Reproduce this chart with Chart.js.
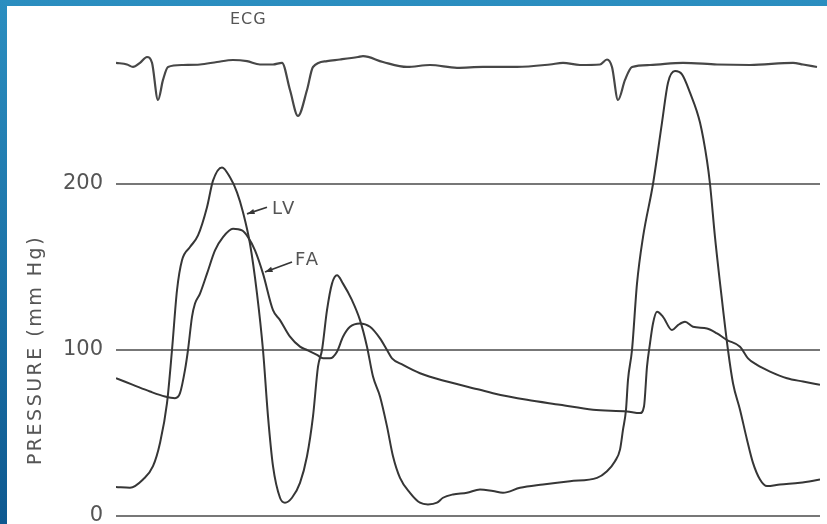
<!DOCTYPE html>
<html>
<head>
<meta charset="utf-8">
<script src="https://cdn.jsdelivr.net/npm/chart.js@4.4.1/dist/chart.umd.min.js"></script>
<style>
    body { margin: 0; background: #fff; }
    #frame {
        position: relative;
        width: 827px;
        height: 524px;
        background: linear-gradient(to bottom, #2b8ec0, #0e5990);
        overflow: hidden;
    }
    #paper {
        position: absolute;
        left: 7px;
        top: 6px;
        width: 820px;
        height: 518px;
        background: #fff;
    }
</style>
</head>
<body>
<div id="frame">
    <div id="paper"><canvas id="pressure-chart"></canvas></div>
</div>
<script>
// time axis in arbitrary units, pressure in mm Hg
const lvTime = [0, 14, 27, 37, 44, 51, 56, 61, 66, 74, 82, 91, 97, 106, 114, 121, 127, 134, 141, 147, 152, 157, 164, 169, 176, 184, 191, 197, 202, 206, 211, 216, 221, 227, 236, 244, 251, 257, 264, 271, 277, 284, 294, 304, 312, 321, 327, 337, 351, 364, 377, 387, 404, 427, 454, 481, 491, 499, 504, 507, 510, 512, 516, 521, 527, 537, 546, 552, 559, 566, 574, 584, 591, 594, 599, 606, 612, 617, 624, 631, 637, 644, 651, 664, 684, 704];
const lvPressure = [17.5, 17, 22, 30, 44, 68, 100, 136, 154, 162, 169, 186, 202, 210, 204, 195, 183, 164, 134, 100, 60, 30, 11, 8, 11, 20, 36, 60, 90, 100, 124, 140, 145, 140, 130, 118, 102, 84, 72, 54, 36, 23, 14, 8, 7, 8, 11, 13, 14, 16, 15, 14, 17, 19, 21, 23, 27, 33, 40, 52, 64, 82, 100, 140, 168, 200, 237, 261, 268, 266, 255, 237, 214, 200, 168, 130, 100, 80, 64, 46, 32, 22, 18, 19, 20, 22];

const faTime = [0, 17, 34, 49, 59, 64, 69, 72, 76, 79, 84, 91, 99, 107, 117, 126, 132, 139, 147, 157, 164, 174, 184, 191, 201, 207, 214, 221, 227, 234, 244, 254, 264, 271, 276, 287, 304, 331, 364, 377, 411, 444, 477, 511, 524, 528, 531, 534, 537, 541, 547, 556, 562, 569, 577, 591, 601, 611, 624, 632, 641, 654, 671, 687, 704];
const faPressure = [83, 79, 75, 72, 71, 74, 88, 100, 120, 128, 134, 146, 160, 168, 173, 172, 168, 160, 146, 124, 118, 108, 102, 100, 97, 95, 95, 99, 108, 114, 116, 114, 107, 100, 95, 91, 86, 81, 76, 74, 70, 67, 64, 63, 62, 66, 90, 104, 116, 123, 120, 112, 115, 117, 114, 113, 110, 106, 102, 95, 91, 87, 83, 81, 79];

// ECG trace drawn on the same scale, above the pressure traces
const ecgTime = [0, 11, 17, 24, 31, 36, 42, 47, 52, 67, 84, 101, 117, 131, 144, 157, 166, 174, 182, 191, 197, 211, 224, 242, 247, 267, 291, 314, 341, 367, 401, 434, 447, 464, 484, 491, 496, 502, 509, 516, 534, 567, 601, 634, 677, 687, 701];
const ecgLevel = [273, 272, 270.5, 273, 276.5, 273, 250.6, 262.7, 270.5, 271.7, 272, 273.5, 274.7, 274, 272, 272, 273, 256.6, 241, 256.6, 270.5, 274, 275, 276.5, 277, 273.5, 270.5, 271.7, 270, 270.5, 270.5, 272, 273, 271.7, 272, 275, 270.5, 250.6, 262.7, 270.5, 271.7, 273, 272, 271.7, 273, 272, 270.5];

const yTicks = [0, 100, 200];
const yTitle = 'PRESSURE (mm Hg)';

const toPoints = (xs, ys) => xs.map((x, i) => ({ x: x, y: ys[i] }));

const traceColor = '#363636';
const textColor = '#555';

// labels with pointer arrows, ECG caption and the axis title
const labelPlugin = {
    id: 'labels',
    afterDatasetsDraw(chart) {
        const ctx = chart.ctx;
        const xs = chart.scales.x;
        const ys = chart.scales.y;
        const px = v => xs.getPixelForValue(v);
        const py = v => ys.getPixelForValue(v);

        const arrow = (x1, y1, x2, y2) => {
            const a = Math.atan2(y2 - y1, x2 - x1);
            ctx.beginPath();
            ctx.moveTo(x1, y1);
            ctx.lineTo(x2, y2);
            ctx.stroke();
            ctx.beginPath();
            ctx.moveTo(x2, y2);
            ctx.lineTo(x2 - 8 * Math.cos(a - 0.35), y2 - 8 * Math.sin(a - 0.35));
            ctx.lineTo(x2 - 8 * Math.cos(a + 0.35), y2 - 8 * Math.sin(a + 0.35));
            ctx.closePath();
            ctx.fill();
        };

        ctx.save();
        ctx.strokeStyle = traceColor;
        ctx.fillStyle = traceColor;
        ctx.lineWidth = 1.8;
        arrow(px(151), py(186), px(131), py(182));
        arrow(px(176), py(153), px(149), py(147));

        ctx.fillStyle = textColor;
        ctx.font = '18px "DejaVu Sans"';
        ctx.letterSpacing = '2px';
        ctx.textBaseline = 'middle';
        ctx.textAlign = 'left';
        ctx.fillText('LV', px(156), py(185));
        ctx.fillText('FA', px(179), py(154));

        ctx.font = '16px "DejaVu Sans"';
        ctx.letterSpacing = '1px';
        ctx.fillText('ECG', px(114), py(299));

        ctx.font = '19px "DejaVu Sans"';
        ctx.letterSpacing = '2.5px';
        ctx.textAlign = 'center';
        ctx.translate(29, py(100));
        ctx.rotate(-Math.PI / 2);
        ctx.fillText(yTitle, 0, 0);
        ctx.restore();
    }
};

const ctx = document.getElementById('pressure-chart').getContext('2d');
new Chart(ctx, {
    type: 'line',
    data: {
        datasets: [
            { label: 'ECG', data: toPoints(ecgTime, ecgLevel), borderColor: '#474747', borderWidth: 2.2 },
            { label: 'LV', data: toPoints(lvTime, lvPressure), borderColor: traceColor, borderWidth: 2 },
            { label: 'FA', data: toPoints(faTime, faPressure), borderColor: traceColor, borderWidth: 2 }
        ]
    },
    options: {
        responsive: true,
        maintainAspectRatio: false,
        animation: false,
        layout: { padding: { left: 0, right: 7, top: 12, bottom: 8 } },
        elements: {
            point: { radius: 0 },
            line: { cubicInterpolationMode: 'monotone', fill: false }
        },
        plugins: {
            legend: { display: false },
            tooltip: { enabled: false }
        },
        scales: {
            x: {
                type: 'linear',
                min: 0,
                max: 704,
                display: false
            },
            y: {
                min: 0,
                max: 300,
                border: { display: false },
                afterFit(axis) {
                    axis.width = 109;
                    axis.paddingTop = 0;
                    axis.paddingBottom = 0;
                },
                afterBuildTicks(axis) {
                    axis.ticks = yTicks.map(v => ({ value: v }));
                },
                grid: {
                    color: '#777',
                    lineWidth: 2,
                    drawTicks: false
                },
                ticks: {
                    padding: 13,
                    color: textColor,
                    font: { family: 'DejaVu Sans', size: 21, lineHeight: 1 }
                }
            }
        }
    },
    plugins: [labelPlugin]
});
</script>
</body>
</html>
